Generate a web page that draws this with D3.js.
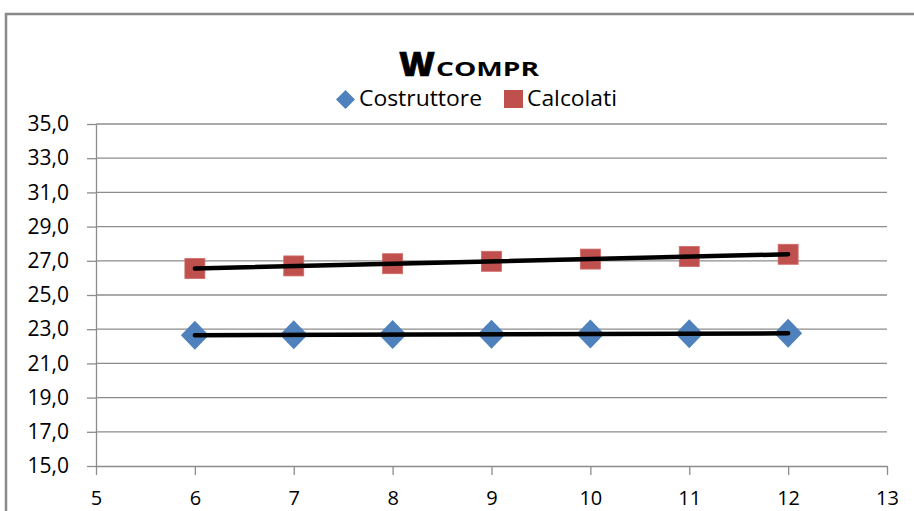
<!DOCTYPE html>
<html>
<head>
<meta charset="utf-8">
<script src="https://cdn.jsdelivr.net/npm/d3@7"></script>
<style>
  html, body { margin: 0; padding: 0; background: #fff; }
  svg { display: block; font-family: "Open Sans", sans-serif; }
</style>
</head>
<body>
<svg id="chart" width="914" height="511"></svg>
<script>
// Compressor work: manufacturer data vs calculated values
const xValues = [6, 7, 8, 9, 10, 11, 12];
const costruttore = [22.65, 22.67, 22.69, 22.71, 22.72, 22.74, 22.76];
const calcolati = [26.55, 26.70, 26.83, 26.97, 27.10, 27.25, 27.38];
const seriesNames = ["Costruttore", "Calcolati"];
const xTicks = [5, 6, 7, 8, 9, 10, 11, 12, 13];
const yTicks = [15, 17, 19, 21, 23, 25, 27, 29, 31, 33, 35];

const colors = { Costruttore: "#4F81BD", Calcolati: "#C0504D" };
const gridColor = "#8c8c8c";
const font = "'Open Sans', sans-serif";

const svg = d3.select("#chart");

// chart frame
svg.append("rect")
  .attr("x", 6).attr("y", 14)
  .attr("width", 940).attr("height", 540)
  .attr("fill", "none")
  .attr("stroke", "#8a8a8a")
  .attr("stroke-width", 2.5);

const plot = { left: 96, right: 887, top: 124, bottom: 466 };

const x = d3.scaleLinear().domain([5, 13]).range([plot.left, plot.right]);
const y = d3.scaleLinear().domain([15, 35]).range([plot.bottom, plot.top]);

const fmt = v => d3.format(".1f")(v).replace(".", ",");

// horizontal gridlines
svg.append("g")
  .selectAll("line")
  .data(yTicks.filter(t => t !== 15))
  .join("line")
  .attr("x1", plot.left).attr("x2", plot.right)
  .attr("y1", d => y(d)).attr("y2", d => y(d))
  .attr("stroke", gridColor).attr("stroke-width", 1.3);

// y axis
const yAxis = svg.append("g")
  .attr("transform", `translate(${plot.left},0)`)
  .call(d3.axisLeft(y).tickValues(yTicks).tickFormat(fmt).tickSize(9).tickSizeOuter(0));
yAxis.select(".domain").attr("stroke", gridColor).attr("stroke-width", 1.3);
yAxis.selectAll(".tick line").attr("stroke", gridColor).attr("stroke-width", 1.3);
yAxis.selectAll(".tick text")
  .attr("x", -27)
  .attr("font-size", 21)
  .attr("font-family", font)
  .attr("fill", "#000");

// x axis
const xAxis = svg.append("g")
  .attr("transform", `translate(0,${plot.bottom})`)
  .call(d3.axisBottom(x).tickValues(xTicks).tickFormat(d3.format("d")).tickSize(9).tickSizeOuter(0));
xAxis.select(".domain").attr("stroke", gridColor).attr("stroke-width", 1.3);
xAxis.selectAll(".tick line").attr("stroke", gridColor).attr("stroke-width", 1.3);
xAxis.selectAll(".tick text")
  .attr("y", 25)
  .attr("font-size", 20)
  .attr("font-family", font)
  .attr("fill", "#000");

// markers
svg.append("g")
  .selectAll("path")
  .data(xValues.map((v, i) => [v, costruttore[i]]))
  .join("path")
  .attr("transform", d => `translate(${x(d[0])},${y(d[1])})`)
  .attr("d", "M0,-14.5L14,0L0,14.5L-14,0Z")
  .attr("fill", colors.Costruttore);

svg.append("g")
  .selectAll("rect")
  .data(xValues.map((v, i) => [v, calcolati[i]]))
  .join("rect")
  .attr("x", d => x(d[0]) - 10)
  .attr("y", d => y(d[1]) - 10)
  .attr("width", 20).attr("height", 20)
  .attr("fill", colors.Calcolati)
  .attr("stroke", "#d06a67").attr("stroke-width", 0.8);

// linear trend lines
function linearFit(xs, ys) {
  const mx = d3.mean(xs), my = d3.mean(ys);
  const b = d3.sum(xs, (v, i) => (v - mx) * (ys[i] - my)) / d3.sum(xs, v => (v - mx) ** 2);
  return v => my + b * (v - mx);
}
const line = d3.line().x(d => x(d[0])).y(d => y(d[1]));
[costruttore, calcolati].forEach(vals => {
  const f = linearFit(xValues, vals);
  const ends = [xValues[0], xValues[xValues.length - 1]].map(v => [v, f(v)]);
  svg.append("path")
    .attr("d", line(ends))
    .attr("fill", "none")
    .attr("stroke", "#000")
    .attr("stroke-width", 4.5)
    .attr("stroke-linecap", "round");
});

// title: W with COMPR subscript-style suffix
svg.append("text")
  .attr("x", 399).attr("y", 76)
  .attr("font-family", font)
  .attr("font-weight", 800)
  .attr("font-size", 34)
  .attr("textLength", 36).attr("lengthAdjust", "spacingAndGlyphs")
  .attr("fill", "#000")
  .attr("stroke", "#000").attr("stroke-width", 0.6)
  .text("W");
svg.append("text")
  .attr("x", 436).attr("y", 76)
  .attr("font-family", font)
  .attr("font-weight", "bold")
  .attr("font-size", 20)
  .attr("textLength", 103).attr("lengthAdjust", "spacingAndGlyphs")
  .attr("fill", "#000")
  .text("COMPR");

// legend
const legend = svg.append("g").attr("font-family", font);
legend.append("path")
  .attr("transform", "translate(345.5,99.5)")
  .attr("d", "M0,-9.5L9.5,0L0,9.5L-9.5,0Z")
  .attr("fill", colors.Costruttore);
legend.append("text")
  .attr("x", 359).attr("y", 106)
  .attr("font-size", 21).attr("fill", "#000")
  .attr("textLength", 123).attr("lengthAdjust", "spacingAndGlyphs")
  .text(seriesNames[0]);
legend.append("rect")
  .attr("x", 504).attr("y", 90).attr("width", 19).attr("height", 18)
  .attr("fill", colors.Calcolati);
legend.append("text")
  .attr("x", 527).attr("y", 106)
  .attr("font-size", 21).attr("fill", "#000")
  .attr("textLength", 90).attr("lengthAdjust", "spacingAndGlyphs")
  .text(seriesNames[1]);
</script>
</body>
</html>
